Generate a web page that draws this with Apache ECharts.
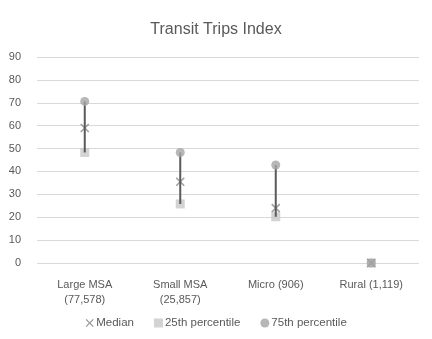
<!DOCTYPE html>
<html>
<head>
<meta charset="utf-8">
<script src="https://cdn.jsdelivr.net/npm/echarts@6/dist/echarts.min.js"></script>
<style>
  html, body { margin: 0; padding: 0; background: #fff; }
  #main { width: 432px; height: 339px; }
</style>
</head>
<body>
<div id="main"></div>
<script>
var categories = ["Large MSA\n(77,578)", "Small MSA\n(25,857)", "Micro (906)", "Rural (1,119)"];
var median = [59, 35.5, 24, 0];
var p25 = [48.3, 25.8, 20.2, 0];
var p75 = [70.6, 48.3, 42.8, 0];
var yTicks = [0, 10, 20, 30, 40, 50, 60, 70, 80, 90];

var crossPath = "path://M0,0 L10,10 M10,0 L0,10";
var font = "Liberation Sans";

var myChart = echarts.init(document.getElementById("main"));

var option = {
  animation: false,
  textStyle: { fontFamily: font },
  title: {
    text: "Transit Trips Index",
    left: "center",
    top: 17,
    textStyle: { fontSize: 16, fontWeight: "normal", color: "#595959", fontFamily: font }
  },
  grid: { left: 37, right: 13, top: 57, bottom: 76 },
  legend: {
    bottom: 5,
    itemGap: 20,
    itemWidth: 9,
    itemHeight: 9,
    textStyle: { fontSize: 11.5, color: "#595959", padding: [0, 0, 0, -3] },
    data: [
      { name: "Median", icon: "image://data:image/svg+xml;utf8," + encodeURIComponent('<svg xmlns="http://www.w3.org/2000/svg" width="10" height="10"><path d="M1,1 L9,9 M9,1 L1,9" stroke="#7f7f7f" stroke-width="1.4"/></svg>') },
      { name: "25th percentile", icon: "rect" },
      { name: "75th percentile", icon: "circle" }
    ]
  },
  xAxis: {
    type: "category",
    data: categories,
    axisLine: { show: false },
    axisTick: { show: false },
    axisLabel: { fontSize: 11, color: "#595959", lineHeight: 15, margin: 14 }
  },
  yAxis: {
    type: "value",
    min: 0,
    max: 90,
    interval: 10,
    axisLine: { show: false },
    axisTick: { show: false },
    axisLabel: {
      fontSize: 11, color: "#595959", margin: 16,
      formatter: function (v) { return yTicks.indexOf(v) >= 0 ? String(v) : ""; }
    },
    splitLine: { lineStyle: { color: "#d9d9d9", width: 1 } }
  },
  series: [
    {
      name: "25th percentile",
      type: "scatter",
      symbol: "rect",
      symbolSize: 9,
      itemStyle: { color: "#c8c8c8" },
      data: p25,
      z: 2
    },
    {
      name: "Median",
      type: "scatter",
      symbol: crossPath,
      symbolSize: 8,
      itemStyle: { color: "none", borderColor: "#8a8a8a", borderWidth: 1.6 },
      data: median,
      z: 3
    },
    {
      name: "range",
      type: "custom",
      renderItem: function (params, api) {
        var lo = api.coord([api.value(0), api.value(1)]);
        var hi = api.coord([api.value(0), api.value(2)]);
        return {
          type: "line",
          shape: { x1: lo[0], y1: lo[1], x2: hi[0], y2: hi[1] },
          style: { stroke: "#5a5a5a", lineWidth: 2 }
        };
      },
      data: categories.map(function (c, i) { return [i, p25[i], p75[i]]; }),
      z: 4
    },
    {
      name: "75th percentile",
      type: "scatter",
      symbol: "circle",
      symbolSize: 9,
      itemStyle: { color: "#a5a5a5" },
      data: p75,
      z: 5
    }
  ]
};

myChart.setOption(option);
</script>
</body>
</html>
